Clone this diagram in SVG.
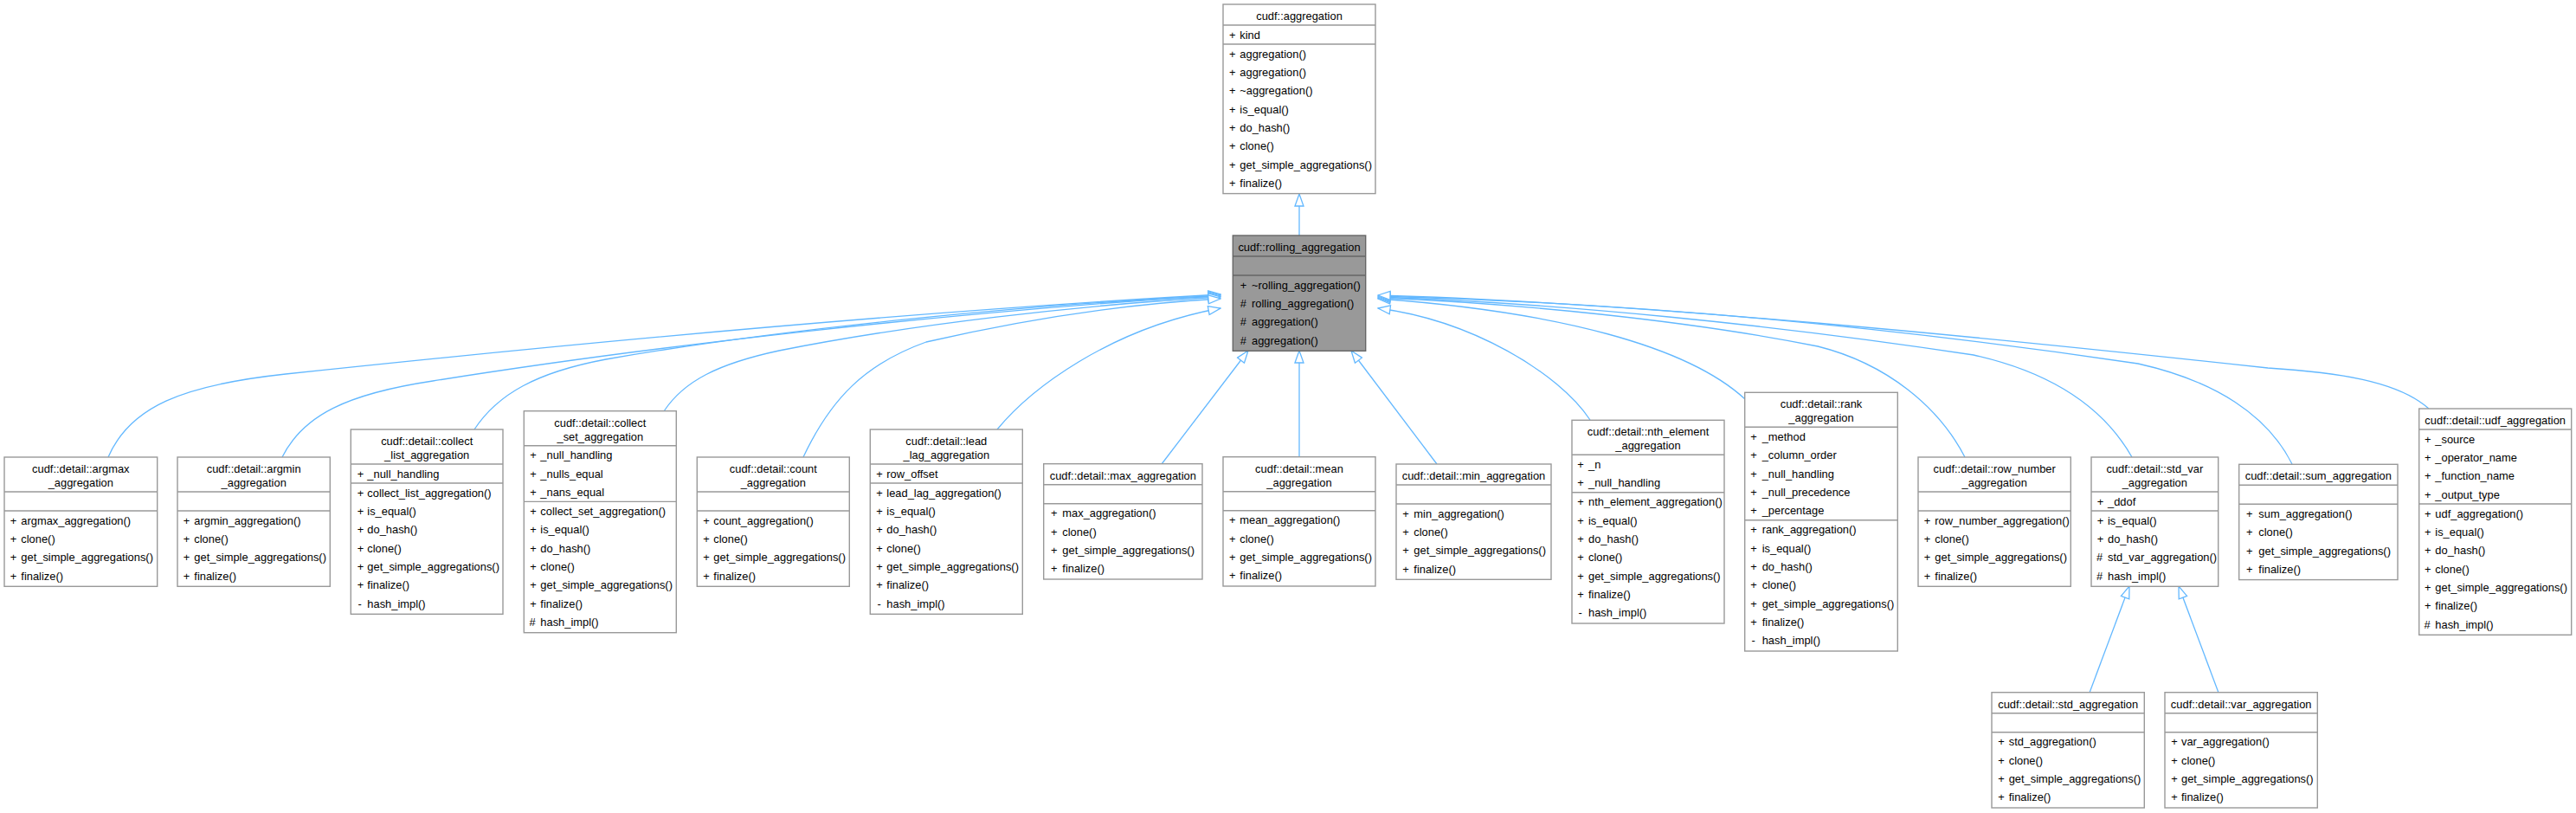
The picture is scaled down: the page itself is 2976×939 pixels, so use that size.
<svg xmlns="http://www.w3.org/2000/svg" width="2976" height="939" viewBox="0 0 2976 939">
<style>
.b{fill:#fff;stroke:#999;stroke-width:1.4}
.g{fill:#999;stroke:#666;stroke-width:1.4}
.s{stroke:#999;stroke-width:1.4}
.sg{stroke:#666;stroke-width:1.4}
text{font-family:"Liberation Sans",Arial,Helvetica,sans-serif;font-size:12.9px;fill:#000}
.c{text-anchor:middle}
.e{fill:none;stroke:#63b8ff;stroke-width:1.3;marker-end:url(#a)}
</style>
<defs>
<marker id="a" markerWidth="16" markerHeight="12" refX="15" refY="6" orient="auto" markerUnits="userSpaceOnUse"><path d="M1,1 L15,6 L1,11 Z" fill="#fff" stroke="#63b8ff" stroke-width="1.3"/></marker>
</defs>
<rect width="2976" height="939" fill="#fff"/>
<g id="edges">
<path class="e" d="M1501,272 L1501,224"/>
<path class="e" d="M125,528 C150,470 210,445 330,432 C650,398 1050,360 1410,340"/>
<path class="e" d="M326,528 C350,480 400,455 500,440 C750,400 1100,360 1410,341"/>
<path class="e" d="M548,496 C575,455 620,430 700,415 C900,380 1200,350 1410,342"/>
<path class="e" d="M767,475 C790,440 830,420 900,405 C1050,375 1250,352 1410,343"/>
<path class="e" d="M928,528 C960,460 1000,420 1070,395 C1200,365 1320,350 1410,345"/>
<path class="e" d="M1152,496 C1190,450 1280,380 1410,356"/>
<path class="e" d="M1342,536 L1442,405"/>
<path class="e" d="M1501,528 L1501,405"/>
<path class="e" d="M1660,536 L1561,405"/>
<path class="e" d="M1837,485 C1800,430 1700,370 1592,356"/>
<path class="e" d="M2016,461 C1950,400 1800,360 1592,345"/>
<path class="e" d="M2270,528 C2240,470 2180,420 2100,400 C1950,370 1750,350 1592,344"/>
<path class="e" d="M2463,528 C2430,470 2370,430 2280,410 C2050,375 1800,350 1592,343"/>
<path class="e" d="M2648,536 C2620,480 2560,440 2470,420 C2200,380 1900,350 1592,342"/>
<path class="e" d="M2806,472 C2770,440 2700,430 2620,425 C2300,390 1900,350 1592,341"/>
<path class="e" d="M2414,800 L2460,677"/>
<path class="e" d="M2563,800 L2517,677"/>
</g>

<g id="aggregation">
<rect class="b" x="1413" y="5" width="176" height="218.6"/>
<line class="s" x1="1413" y1="29" x2="1589" y2="29"/>
<line class="s" x1="1413" y1="51" x2="1589" y2="51"/>
<text class="c" x="1501" y="23">cudf::aggregation</text>
<text y="44.7"><tspan x="1420">+</tspan><tspan x="1432.3">kind</tspan></text>
<text y="66.7"><tspan x="1420">+</tspan><tspan x="1432.3">aggregation()</tspan></text>
<text y="88"><tspan x="1420">+</tspan><tspan x="1432.3">aggregation()</tspan></text>
<text y="109.4"><tspan x="1420">+</tspan><tspan x="1432.3">~aggregation()</tspan></text>
<text y="130.7"><tspan x="1420">+</tspan><tspan x="1432.3">is_equal()</tspan></text>
<text y="152"><tspan x="1420">+</tspan><tspan x="1432.3">do_hash()</tspan></text>
<text y="173.4"><tspan x="1420">+</tspan><tspan x="1432.3">clone()</tspan></text>
<text y="194.7"><tspan x="1420">+</tspan><tspan x="1432.3">get_simple_aggregations()</tspan></text>
<text y="216"><tspan x="1420">+</tspan><tspan x="1432.3">finalize()</tspan></text>
</g>

<g id="rolling_aggregation">
<rect class="g" x="1424.3" y="272" width="153.4" height="133.3"/>
<line class="sg" x1="1424.3" y1="296" x2="1577.7" y2="296"/>
<line class="sg" x1="1424.3" y1="318" x2="1577.7" y2="318"/>
<text class="c" x="1501" y="290">cudf::rolling_aggregation</text>
<text y="333.7"><tspan x="1432.7">+</tspan><tspan x="1446">~rolling_aggregation()</tspan></text>
<text y="355"><tspan x="1432.7">#</tspan><tspan x="1446">rolling_aggregation()</tspan></text>
<text y="376.4"><tspan x="1432.7">#</tspan><tspan x="1446">aggregation()</tspan></text>
<text y="397.7"><tspan x="1432.7">#</tspan><tspan x="1446">aggregation()</tspan></text>
</g>

<g id="argmax_aggregation">
<rect class="b" x="5" y="528" width="176.7" height="149.3"/>
<line class="s" x1="5" y1="568" x2="181.7" y2="568"/>
<line class="s" x1="5" y1="590" x2="181.7" y2="590"/>
<text class="c" x="93.3" y="546">cudf::detail::argmax</text>
<text class="c" x="93.3" y="562">_aggregation</text>
<text y="605.7"><tspan x="11.7">+</tspan><tspan x="24.3">argmax_aggregation()</tspan></text>
<text y="627"><tspan x="11.7">+</tspan><tspan x="24.3">clone()</tspan></text>
<text y="648.4"><tspan x="11.7">+</tspan><tspan x="24.3">get_simple_aggregations()</tspan></text>
<text y="669.7"><tspan x="11.7">+</tspan><tspan x="24.3">finalize()</tspan></text>
</g>

<g id="argmin_aggregation">
<rect class="b" x="205" y="528" width="176.3" height="149.3"/>
<line class="s" x1="205" y1="568" x2="381.3" y2="568"/>
<line class="s" x1="205" y1="590" x2="381.3" y2="590"/>
<text class="c" x="293.2" y="546">cudf::detail::argmin</text>
<text class="c" x="293.2" y="562">_aggregation</text>
<text y="605.7"><tspan x="211.7">+</tspan><tspan x="224.3">argmin_aggregation()</tspan></text>
<text y="627"><tspan x="211.7">+</tspan><tspan x="224.3">clone()</tspan></text>
<text y="648.4"><tspan x="211.7">+</tspan><tspan x="224.3">get_simple_aggregations()</tspan></text>
<text y="669.7"><tspan x="211.7">+</tspan><tspan x="224.3">finalize()</tspan></text>
</g>

<g id="collect_list_aggregation">
<rect class="b" x="405.3" y="496" width="175.7" height="213.3"/>
<line class="s" x1="405.3" y1="536" x2="581" y2="536"/>
<line class="s" x1="405.3" y1="558" x2="581" y2="558"/>
<text class="c" x="493.2" y="514">cudf::detail::collect</text>
<text class="c" x="493.2" y="530">_list_aggregation</text>
<text y="551.7"><tspan x="412.7">+</tspan><tspan x="424.3">_null_handling</tspan></text>
<text y="573.7"><tspan x="412.7">+</tspan><tspan x="424.3">collect_list_aggregation()</tspan></text>
<text y="595"><tspan x="412.7">+</tspan><tspan x="424.3">is_equal()</tspan></text>
<text y="616.4"><tspan x="412.7">+</tspan><tspan x="424.3">do_hash()</tspan></text>
<text y="637.7"><tspan x="412.7">+</tspan><tspan x="424.3">clone()</tspan></text>
<text y="659"><tspan x="412.7">+</tspan><tspan x="424.3">get_simple_aggregations()</tspan></text>
<text y="680.4"><tspan x="412.7">+</tspan><tspan x="424.3">finalize()</tspan></text>
<text y="701.7"><tspan x="413.5">-</tspan><tspan x="424.3">hash_impl()</tspan></text>
</g>

<g id="collect_set_aggregation">
<rect class="b" x="605.3" y="474.7" width="176" height="256"/>
<line class="s" x1="605.3" y1="514.7" x2="781.3" y2="514.7"/>
<line class="s" x1="605.3" y1="579.4" x2="781.3" y2="579.4"/>
<text class="c" x="693.3" y="492.7">cudf::detail::collect</text>
<text class="c" x="693.3" y="508.7">_set_aggregation</text>
<text y="530.4"><tspan x="612.3">+</tspan><tspan x="624.3">_null_handling</tspan></text>
<text y="551.7"><tspan x="612.3">+</tspan><tspan x="624.3">_nulls_equal</tspan></text>
<text y="573.1"><tspan x="612.3">+</tspan><tspan x="624.3">_nans_equal</tspan></text>
<text y="595.1"><tspan x="612.3">+</tspan><tspan x="624.3">collect_set_aggregation()</tspan></text>
<text y="616.4"><tspan x="612.3">+</tspan><tspan x="624.3">is_equal()</tspan></text>
<text y="637.8"><tspan x="612.3">+</tspan><tspan x="624.3">do_hash()</tspan></text>
<text y="659.1"><tspan x="612.3">+</tspan><tspan x="624.3">clone()</tspan></text>
<text y="680.4"><tspan x="612.3">+</tspan><tspan x="624.3">get_simple_aggregations()</tspan></text>
<text y="701.8"><tspan x="612.3">+</tspan><tspan x="624.3">finalize()</tspan></text>
<text y="723.1"><tspan x="611.5">#</tspan><tspan x="624.3">hash_impl()</tspan></text>
</g>

<g id="count_aggregation">
<rect class="b" x="805.3" y="528" width="176" height="149.3"/>
<line class="s" x1="805.3" y1="568" x2="981.3" y2="568"/>
<line class="s" x1="805.3" y1="590" x2="981.3" y2="590"/>
<text class="c" x="893.3" y="546">cudf::detail::count</text>
<text class="c" x="893.3" y="562">_aggregation</text>
<text y="605.7"><tspan x="812.3">+</tspan><tspan x="824.3">count_aggregation()</tspan></text>
<text y="627"><tspan x="812.3">+</tspan><tspan x="824.3">clone()</tspan></text>
<text y="648.4"><tspan x="812.3">+</tspan><tspan x="824.3">get_simple_aggregations()</tspan></text>
<text y="669.7"><tspan x="812.3">+</tspan><tspan x="824.3">finalize()</tspan></text>
</g>

<g id="lead_lag_aggregation">
<rect class="b" x="1005.3" y="496" width="176" height="213.3"/>
<line class="s" x1="1005.3" y1="536" x2="1181.3" y2="536"/>
<line class="s" x1="1005.3" y1="558" x2="1181.3" y2="558"/>
<text class="c" x="1093.3" y="514">cudf::detail::lead</text>
<text class="c" x="1093.3" y="530">_lag_aggregation</text>
<text y="551.7"><tspan x="1012.3">+</tspan><tspan x="1024.3">row_offset</tspan></text>
<text y="573.7"><tspan x="1012.3">+</tspan><tspan x="1024.3">lead_lag_aggregation()</tspan></text>
<text y="595"><tspan x="1012.3">+</tspan><tspan x="1024.3">is_equal()</tspan></text>
<text y="616.4"><tspan x="1012.3">+</tspan><tspan x="1024.3">do_hash()</tspan></text>
<text y="637.7"><tspan x="1012.3">+</tspan><tspan x="1024.3">clone()</tspan></text>
<text y="659"><tspan x="1012.3">+</tspan><tspan x="1024.3">get_simple_aggregations()</tspan></text>
<text y="680.4"><tspan x="1012.3">+</tspan><tspan x="1024.3">finalize()</tspan></text>
<text y="701.7"><tspan x="1013.5">-</tspan><tspan x="1024.3">hash_impl()</tspan></text>
</g>

<g id="max_aggregation">
<rect class="b" x="1205.7" y="535.7" width="183.3" height="133.3"/>
<line class="s" x1="1205.7" y1="559.7" x2="1389" y2="559.7"/>
<line class="s" x1="1205.7" y1="581.7" x2="1389" y2="581.7"/>
<text class="c" x="1297.3" y="553.7">cudf::detail::max_aggregation</text>
<text y="597.4"><tspan x="1214">+</tspan><tspan x="1227.3">max_aggregation()</tspan></text>
<text y="618.7"><tspan x="1214">+</tspan><tspan x="1227.3">clone()</tspan></text>
<text y="640.1"><tspan x="1214">+</tspan><tspan x="1227.3">get_simple_aggregations()</tspan></text>
<text y="661.4"><tspan x="1214">+</tspan><tspan x="1227.3">finalize()</tspan></text>
</g>

<g id="mean_aggregation">
<rect class="b" x="1413" y="527.7" width="176" height="149.3"/>
<line class="s" x1="1413" y1="567.7" x2="1589" y2="567.7"/>
<line class="s" x1="1413" y1="589.7" x2="1589" y2="589.7"/>
<text class="c" x="1501" y="545.7">cudf::detail::mean</text>
<text class="c" x="1501" y="561.7">_aggregation</text>
<text y="605.4"><tspan x="1420">+</tspan><tspan x="1432.3">mean_aggregation()</tspan></text>
<text y="626.7"><tspan x="1420">+</tspan><tspan x="1432.3">clone()</tspan></text>
<text y="648.1"><tspan x="1420">+</tspan><tspan x="1432.3">get_simple_aggregations()</tspan></text>
<text y="669.4"><tspan x="1420">+</tspan><tspan x="1432.3">finalize()</tspan></text>
</g>

<g id="min_aggregation">
<rect class="b" x="1613" y="536" width="179" height="133.3"/>
<line class="s" x1="1613" y1="560" x2="1792" y2="560"/>
<line class="s" x1="1613" y1="582" x2="1792" y2="582"/>
<text class="c" x="1702.5" y="554">cudf::detail::min_aggregation</text>
<text y="597.7"><tspan x="1620.3">+</tspan><tspan x="1633.3">min_aggregation()</tspan></text>
<text y="619"><tspan x="1620.3">+</tspan><tspan x="1633.3">clone()</tspan></text>
<text y="640.4"><tspan x="1620.3">+</tspan><tspan x="1633.3">get_simple_aggregations()</tspan></text>
<text y="661.7"><tspan x="1620.3">+</tspan><tspan x="1633.3">finalize()</tspan></text>
</g>

<g id="nth_element_aggregation">
<rect class="b" x="1816" y="485.3" width="176" height="234.7"/>
<line class="s" x1="1816" y1="525.3" x2="1992" y2="525.3"/>
<line class="s" x1="1816" y1="568.7" x2="1992" y2="568.7"/>
<text class="c" x="1904" y="503.3">cudf::detail::nth_element</text>
<text class="c" x="1904" y="519.3">_aggregation</text>
<text y="541"><tspan x="1822.3">+</tspan><tspan x="1835">_n</tspan></text>
<text y="562.3"><tspan x="1822.3">+</tspan><tspan x="1835">_null_handling</tspan></text>
<text y="584.4"><tspan x="1822.3">+</tspan><tspan x="1835">nth_element_aggregation()</tspan></text>
<text y="605.7"><tspan x="1822.3">+</tspan><tspan x="1835">is_equal()</tspan></text>
<text y="627.1"><tspan x="1822.3">+</tspan><tspan x="1835">do_hash()</tspan></text>
<text y="648.4"><tspan x="1822.3">+</tspan><tspan x="1835">clone()</tspan></text>
<text y="669.7"><tspan x="1822.3">+</tspan><tspan x="1835">get_simple_aggregations()</tspan></text>
<text y="691.1"><tspan x="1822.3">+</tspan><tspan x="1835">finalize()</tspan></text>
<text y="712.4"><tspan x="1823.5">-</tspan><tspan x="1835">hash_impl()</tspan></text>
</g>

<g id="rank_aggregation">
<rect class="b" x="2015.7" y="453.3" width="176.6" height="298.7"/>
<line class="s" x1="2015.7" y1="493.3" x2="2192.3" y2="493.3"/>
<line class="s" x1="2015.7" y1="600.7" x2="2192.3" y2="600.7"/>
<text class="c" x="2104" y="471.3">cudf::detail::rank</text>
<text class="c" x="2104" y="487.3">_aggregation</text>
<text y="509"><tspan x="2022.3">+</tspan><tspan x="2035.7">_method</tspan></text>
<text y="530.3"><tspan x="2022.3">+</tspan><tspan x="2035.7">_column_order</tspan></text>
<text y="551.7"><tspan x="2022.3">+</tspan><tspan x="2035.7">_null_handling</tspan></text>
<text y="573"><tspan x="2022.3">+</tspan><tspan x="2035.7">_null_precedence</tspan></text>
<text y="594.3"><tspan x="2022.3">+</tspan><tspan x="2035.7">_percentage</tspan></text>
<text y="616.4"><tspan x="2022.3">+</tspan><tspan x="2035.7">rank_aggregation()</tspan></text>
<text y="637.7"><tspan x="2022.3">+</tspan><tspan x="2035.7">is_equal()</tspan></text>
<text y="659.1"><tspan x="2022.3">+</tspan><tspan x="2035.7">do_hash()</tspan></text>
<text y="680.4"><tspan x="2022.3">+</tspan><tspan x="2035.7">clone()</tspan></text>
<text y="701.7"><tspan x="2022.3">+</tspan><tspan x="2035.7">get_simple_aggregations()</tspan></text>
<text y="723.1"><tspan x="2022.3">+</tspan><tspan x="2035.7">finalize()</tspan></text>
<text y="744.4"><tspan x="2023.5">-</tspan><tspan x="2035.7">hash_impl()</tspan></text>
</g>

<g id="row_number_aggregation">
<rect class="b" x="2216" y="528" width="176.3" height="149.3"/>
<line class="s" x1="2216" y1="568" x2="2392.3" y2="568"/>
<line class="s" x1="2216" y1="590" x2="2392.3" y2="590"/>
<text class="c" x="2304.2" y="546">cudf::detail::row_number</text>
<text class="c" x="2304.2" y="562">_aggregation</text>
<text y="605.7"><tspan x="2222.7">+</tspan><tspan x="2235.3">row_number_aggregation()</tspan></text>
<text y="627"><tspan x="2222.7">+</tspan><tspan x="2235.3">clone()</tspan></text>
<text y="648.4"><tspan x="2222.7">+</tspan><tspan x="2235.3">get_simple_aggregations()</tspan></text>
<text y="669.7"><tspan x="2222.7">+</tspan><tspan x="2235.3">finalize()</tspan></text>
</g>

<g id="std_var_aggregation">
<rect class="b" x="2416" y="528" width="146.7" height="149.3"/>
<line class="s" x1="2416" y1="568" x2="2562.7" y2="568"/>
<line class="s" x1="2416" y1="590" x2="2562.7" y2="590"/>
<text class="c" x="2489.3" y="546">cudf::detail::std_var</text>
<text class="c" x="2489.3" y="562">_aggregation</text>
<text y="583.7"><tspan x="2422.7">+</tspan><tspan x="2435">_ddof</tspan></text>
<text y="605.7"><tspan x="2422.7">+</tspan><tspan x="2435">is_equal()</tspan></text>
<text y="627"><tspan x="2422.7">+</tspan><tspan x="2435">do_hash()</tspan></text>
<text y="648.4"><tspan x="2422">#</tspan><tspan x="2435">std_var_aggregation()</tspan></text>
<text y="669.7"><tspan x="2422">#</tspan><tspan x="2435">hash_impl()</tspan></text>
</g>

<g id="sum_aggregation">
<rect class="b" x="2586.7" y="536.3" width="183.3" height="133.3"/>
<line class="s" x1="2586.7" y1="560.3" x2="2770" y2="560.3"/>
<line class="s" x1="2586.7" y1="582.3" x2="2770" y2="582.3"/>
<text class="c" x="2678.3" y="554.3">cudf::detail::sum_aggregation</text>
<text y="598"><tspan x="2595">+</tspan><tspan x="2609.3">sum_aggregation()</tspan></text>
<text y="619.3"><tspan x="2595">+</tspan><tspan x="2609.3">clone()</tspan></text>
<text y="640.7"><tspan x="2595">+</tspan><tspan x="2609.3">get_simple_aggregations()</tspan></text>
<text y="662"><tspan x="2595">+</tspan><tspan x="2609.3">finalize()</tspan></text>
</g>

<g id="udf_aggregation">
<rect class="b" x="2794.7" y="472" width="176" height="261.3"/>
<line class="s" x1="2794.7" y1="496" x2="2970.7" y2="496"/>
<line class="s" x1="2794.7" y1="582" x2="2970.7" y2="582"/>
<text class="c" x="2882.7" y="490">cudf::detail::udf_aggregation</text>
<text y="511.7"><tspan x="2801">+</tspan><tspan x="2813.3">_source</tspan></text>
<text y="533"><tspan x="2801">+</tspan><tspan x="2813.3">_operator_name</tspan></text>
<text y="554.4"><tspan x="2801">+</tspan><tspan x="2813.3">_function_name</tspan></text>
<text y="575.7"><tspan x="2801">+</tspan><tspan x="2813.3">_output_type</tspan></text>
<text y="597.7"><tspan x="2801">+</tspan><tspan x="2813.3">udf_aggregation()</tspan></text>
<text y="619"><tspan x="2801">+</tspan><tspan x="2813.3">is_equal()</tspan></text>
<text y="640.4"><tspan x="2801">+</tspan><tspan x="2813.3">do_hash()</tspan></text>
<text y="661.7"><tspan x="2801">+</tspan><tspan x="2813.3">clone()</tspan></text>
<text y="683"><tspan x="2801">+</tspan><tspan x="2813.3">get_simple_aggregations()</tspan></text>
<text y="704.4"><tspan x="2801">+</tspan><tspan x="2813.3">finalize()</tspan></text>
<text y="725.7"><tspan x="2800.5">#</tspan><tspan x="2813.3">hash_impl()</tspan></text>
</g>

<g id="std_aggregation">
<rect class="b" x="2301" y="799.7" width="176.3" height="133.3"/>
<line class="s" x1="2301" y1="823.7" x2="2477.3" y2="823.7"/>
<line class="s" x1="2301" y1="845.7" x2="2477.3" y2="845.7"/>
<text class="c" x="2389.2" y="817.7">cudf::detail::std_aggregation</text>
<text y="861.4"><tspan x="2308.3">+</tspan><tspan x="2320.7">std_aggregation()</tspan></text>
<text y="882.7"><tspan x="2308.3">+</tspan><tspan x="2320.7">clone()</tspan></text>
<text y="904.1"><tspan x="2308.3">+</tspan><tspan x="2320.7">get_simple_aggregations()</tspan></text>
<text y="925.4"><tspan x="2308.3">+</tspan><tspan x="2320.7">finalize()</tspan></text>
</g>

<g id="var_aggregation">
<rect class="b" x="2501" y="799.7" width="176.3" height="133.3"/>
<line class="s" x1="2501" y1="823.7" x2="2677.3" y2="823.7"/>
<line class="s" x1="2501" y1="845.7" x2="2677.3" y2="845.7"/>
<text class="c" x="2589.2" y="817.7">cudf::detail::var_aggregation</text>
<text y="861.4"><tspan x="2508.3">+</tspan><tspan x="2520">var_aggregation()</tspan></text>
<text y="882.7"><tspan x="2508.3">+</tspan><tspan x="2520">clone()</tspan></text>
<text y="904.1"><tspan x="2508.3">+</tspan><tspan x="2520">get_simple_aggregations()</tspan></text>
<text y="925.4"><tspan x="2508.3">+</tspan><tspan x="2520">finalize()</tspan></text>
</g>
</svg>
